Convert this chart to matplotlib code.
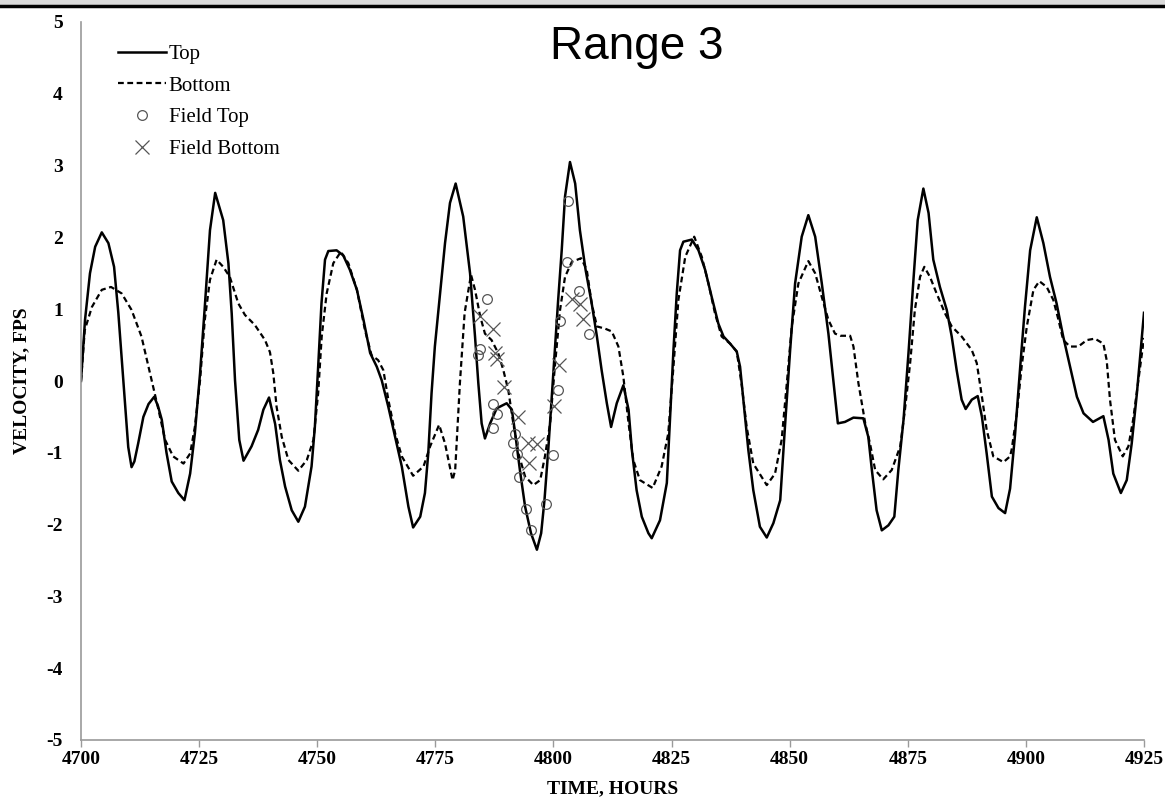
import matplotlib.pyplot as plt
from matplotlib.lines import Line2D
from matplotlib.patches import Rectangle

plt.rcParams["axes.unicode_minus"] = False

# ---- data --------------------------------------------------------------
top_t = [4700.0, 4700.85, 4701.9, 4703.0, 4704.4, 4705.8, 4707.0, 4707.9, 4708.95, 4710.0,
         4710.7, 4711.3, 4712.1, 4713.2, 4714.3, 4715.5, 4716.3, 4717.1, 4718.1, 4719.2,
         4720.6, 4721.9, 4723.1, 4724.1, 4725.2, 4726.2, 4727.3, 4728.4, 4730.1, 4731.2,
         4731.9, 4732.6, 4733.5, 4734.4, 4736.1, 4737.5, 4738.6, 4739.8, 4741.1, 4742.1,
         4743.2, 4744.6, 4746.0, 4747.4, 4748.8, 4749.5, 4750.2, 4750.9, 4751.65, 4752.35,
         4754.1, 4755.5, 4756.9, 4758.4, 4759.8, 4761.2, 4762.6, 4763.65, 4765.05, 4766.5,
         4767.9, 4769.3, 4770.3, 4771.8, 4772.8, 4773.5, 4774.2, 4774.9, 4776.0, 4777.05,
         4778.1, 4779.3, 4780.9, 4782.35, 4783.4, 4784.1, 4784.8, 4785.5, 4786.6, 4788.0,
         4790.1, 4791.2, 4791.9, 4792.9, 4794.0, 4795.25, 4796.5, 4797.4, 4798.1, 4798.9,
         4799.6, 4800.3, 4801.0, 4801.75, 4802.45, 4803.5, 4804.6, 4805.6, 4806.8, 4808.1,
         4809.2, 4810.2, 4811.3, 4812.2, 4813.4, 4814.8, 4815.9, 4816.6, 4817.6, 4818.7,
         4820.1, 4820.8, 4822.55, 4824.0, 4824.7, 4825.4, 4826.1, 4826.8, 4827.5, 4829.3,
         4830.7, 4832.1, 4833.5, 4834.9, 4836.0, 4837.4, 4838.8, 4839.5, 4840.2, 4841.25,
         4842.3, 4843.7, 4845.15, 4846.55, 4848.0, 4849.0, 4850.1, 4851.15, 4852.55, 4853.95,
         4855.4, 4856.8, 4858.2, 4859.3, 4860.2, 4861.7, 4863.5, 4865.6, 4866.65, 4867.4,
         4868.4, 4869.5, 4870.9, 4872.15, 4873.0, 4874.1, 4875.15, 4876.2, 4877.1, 4878.3,
         4879.4, 4880.4, 4881.8, 4883.25, 4884.3, 4885.35, 4886.4, 4887.25, 4888.55, 4889.8,
         4890.7, 4891.7, 4892.8, 4894.2, 4895.6, 4896.65, 4897.7, 4898.8, 4899.8, 4900.9,
         4902.3, 4903.7, 4905.1, 4906.5, 4907.9, 4909.35, 4910.8, 4912.2, 4914.2, 4916.4,
         4917.5, 4918.5, 4920.1, 4921.35, 4922.4, 4923.5, 4924.5, 4925.0]
top_v = [0.00, 0.85, 1.50, 1.87, 2.07, 1.92, 1.59, 0.95, 0.01, -0.92,
         -1.20, -1.12, -0.87, -0.50, -0.32, -0.22, -0.35, -0.54, -1.00, -1.40,
         -1.56, -1.66, -1.29, -0.73, 0.11, 1.03, 2.10, 2.62, 2.24, 1.64,
         0.94, 0.01, -0.82, -1.11, -0.91, -0.68, -0.40, -0.23, -0.60, -1.10,
         -1.47, -1.80, -1.96, -1.75, -1.19, -0.64, 0.20, 1.08, 1.69, 1.81,
         1.82, 1.75, 1.55, 1.27, 0.85, 0.39, 0.20, 0.01, -0.36, -0.78,
         -1.19, -1.75, -2.04, -1.89, -1.56, -1.01, -0.17, 0.48, 1.22, 1.92,
         2.48, 2.75, 2.29, 1.50, 0.62, -0.03, -0.59, -0.80, -0.59, -0.38,
         -0.31, -0.40, -0.73, -1.24, -1.75, -2.12, -2.35, -2.12, -1.66, -0.96,
         -0.26, 0.43, 1.13, 1.82, 2.57, 3.05, 2.75, 2.10, 1.55, 1.08,
         0.62, 0.15, -0.31, -0.64, -0.31, -0.06, -0.40, -0.96, -1.52, -1.89,
         -2.12, -2.19, -1.94, -1.42, -0.50, 0.43, 1.22, 1.82, 1.94, 1.97,
         1.82, 1.55, 1.17, 0.80, 0.62, 0.52, 0.41, 0.20, -0.26, -0.96,
         -1.52, -2.03, -2.18, -1.98, -1.66, -0.64, 0.43, 1.36, 2.01, 2.31,
         2.01, 1.36, 0.66, -0.03, -0.59, -0.57, -0.51, -0.52, -0.78, -1.24,
         -1.80, -2.08, -2.01, -1.89, -1.24, -0.54, 0.39, 1.41, 2.24, 2.68,
         2.34, 1.69, 1.31, 0.99, 0.62, 0.15, -0.26, -0.39, -0.26, -0.21,
         -0.50, -1.01, -1.61, -1.77, -1.84, -1.50, -0.75, 0.20, 1.03, 1.82,
         2.28, 1.92, 1.45, 1.08, 0.62, 0.20, -0.22, -0.45, -0.57, -0.49,
         -0.82, -1.29, -1.56, -1.38, -0.87, -0.17, 0.57, 0.95]

bot_t = [4700.0, 4700.8, 4702.3, 4704.4, 4706.35, 4708.6, 4710.7, 4712.8, 4714.6, 4716.4,
         4717.8, 4719.5, 4721.7, 4723.1, 4724.1, 4725.2, 4726.2, 4727.3, 4728.7, 4730.1,
         4731.5, 4733.3, 4734.7, 4736.8, 4738.95, 4740.0, 4740.7, 4741.4, 4742.5, 4743.9,
         4746.0, 4747.8, 4749.2, 4750.2, 4750.95, 4752.0, 4753.4, 4755.0, 4756.6, 4758.4,
         4760.1, 4761.5, 4762.9, 4764.0, 4765.05, 4766.5, 4767.9, 4770.3, 4772.5, 4773.9,
         4775.8, 4777.05, 4778.65, 4779.2, 4779.5, 4780.2, 4781.2, 4782.55, 4783.4, 4784.5,
         4785.5, 4786.9, 4788.3, 4789.4, 4790.45, 4791.5, 4792.6, 4794.0, 4795.75, 4797.2,
         4798.2, 4799.3, 4800.3, 4801.4, 4802.45, 4803.9, 4805.85, 4807.05, 4808.1, 4809.2,
         4810.9, 4812.35, 4813.75, 4814.8, 4815.9, 4816.9, 4818.3, 4821.0, 4822.9, 4824.3,
         4825.4, 4826.45, 4827.9, 4829.8, 4831.4, 4832.8, 4834.2, 4835.6, 4837.4, 4838.8,
         4839.9, 4840.9, 4842.3, 4845.15, 4846.9, 4848.3, 4849.4, 4850.45, 4851.85, 4853.95,
         4855.4, 4856.8, 4858.2, 4859.6, 4860.7, 4862.8, 4863.5, 4864.55, 4866.0, 4867.0,
         4868.1, 4869.8, 4871.6, 4873.4, 4874.4, 4875.5, 4876.5, 4877.6, 4878.5, 4879.7,
         4881.1, 4882.9, 4884.3, 4886.4, 4888.55, 4889.6, 4890.7, 4891.7, 4893.1, 4895.25,
         4896.65, 4897.0, 4898.1, 4899.1, 4900.2, 4901.6, 4902.85, 4904.4, 4905.8, 4906.9,
         4907.9, 4909.35, 4911.1, 4912.9, 4914.6, 4916.4, 4917.1, 4917.8, 4918.85, 4920.5,
         4921.7, 4922.7, 4923.8, 4925.0]
bot_v = [0.00, 0.71, 1.03, 1.27, 1.31, 1.22, 0.99, 0.62, 0.11, -0.40,
         -0.82, -1.05, -1.15, -1.01, -0.64, 0.01, 0.85, 1.41, 1.69, 1.59,
         1.45, 1.08, 0.92, 0.78, 0.57, 0.40, 0.11, -0.36, -0.78, -1.10,
         -1.25, -1.10, -0.82, -0.17, 0.62, 1.22, 1.64, 1.80, 1.64, 1.27,
         0.71, 0.36, 0.29, 0.15, -0.26, -0.73, -1.05, -1.32, -1.19, -0.91,
         -0.61, -0.87, -1.38, -1.24, -0.87, -0.03, 0.95, 1.48, 1.27, 0.90,
         0.66, 0.57, 0.39, 0.15, -0.13, -0.59, -1.01, -1.33, -1.45, -1.38,
         -1.05, -0.59, 0.20, 0.99, 1.45, 1.66, 1.71, 1.55, 1.08, 0.76,
         0.73, 0.69, 0.48, 0.06, -0.59, -1.10, -1.38, -1.49, -1.19, -0.73,
         0.20, 1.13, 1.73, 2.01, 1.73, 1.36, 0.94, 0.62, 0.52, 0.41,
         -0.08, -0.64, -1.15, -1.45, -1.29, -0.82, -0.03, 0.76, 1.36, 1.67,
         1.50, 1.17, 0.85, 0.66, 0.63, 0.63, 0.48, -0.03, -0.59, -0.87,
         -1.24, -1.37, -1.24, -0.91, -0.40, 0.25, 0.99, 1.45, 1.59, 1.45,
         1.22, 0.94, 0.76, 0.62, 0.43, 0.25, -0.22, -0.68, -1.05, -1.13,
         -1.05, -0.95, -0.45, 0.20, 0.76, 1.27, 1.39, 1.31, 1.13, 0.85,
         0.57, 0.48, 0.48, 0.57, 0.59, 0.52, 0.29, -0.26, -0.82, -1.05,
         -0.91, -0.54, 0.01, 0.60]

field_top_t = [4785.9, 4784.5, 4784.1, 4787.3, 4788.0, 4787.15, 4791.9, 4791.4, 4792.35, 4792.8,
               4794.2, 4795.2, 4798.4, 4800.0, 4800.9, 4801.4, 4802.8, 4803.15, 4805.5, 4807.5]
field_top_v = [1.14, 0.44, 0.36, -0.32, -0.46, -0.66, -0.74, -0.86, -1.02, -1.34,
               -1.78, -2.08, -1.71, -1.03, -0.13, 0.84, 1.66, 2.51, 1.25, 0.65]

field_bot_t = [4784.5, 4787.15, 4787.6, 4788.1, 4789.5, 4792.6, 4794.7, 4796.5, 4794.8, 4800.1,
               4801.2, 4803.9, 4805.6, 4806.2]
field_bot_v = [0.90, 0.73, 0.39, 0.30, -0.09, -0.50, -0.86, -0.88, -1.14, -0.35,
               0.22, 1.14, 1.07, 0.87]

x_ticks = [4700, 4725, 4750, 4775, 4800, 4825, 4850, 4875, 4900, 4925]
y_ticks = [-5, -4, -3, -2, -1, 0, 1, 2, 3, 4, 5]

SERIF = "Liberation Serif"
GRID_GREY = "#9a9a9a"
MARK_GREY = "#555555"


def main():
    fig = plt.figure(figsize=(11.65, 7.99), dpi=100)
    ax = fig.add_axes([81 / 1165, 59 / 799, 1063 / 1165, 718 / 799])

    ax.plot(top_t, top_v, color="black", lw=1.8, solid_joinstyle="round",
            label="Top")
    ax.plot(bot_t, bot_v, color="black", lw=1.6, linestyle=(0, (2.6, 1.6)),
            dash_joinstyle="round", label="Bottom")
    ax.plot(field_top_t, field_top_v, linestyle="none", marker="o", ms=7,
            mfc="none", mec=MARK_GREY, mew=0.9, label="Field Top")
    ax.plot(field_bot_t, field_bot_v, linestyle="none", marker="x", ms=10,
            mec=MARK_GREY, mew=0.9, label="Field Bottom")

    ax.set_xlim(4700, 4925)
    ax.set_ylim(-5, 5)
    ax.set_xticks(x_ticks)
    ax.set_yticks(y_ticks)
    for lab in ax.get_xticklabels() + ax.get_yticklabels():
        lab.set_fontfamily(SERIF)
        lab.set_fontweight("bold")
        lab.set_fontsize(14)
    ax.tick_params(axis="x", length=5, width=1, color=GRID_GREY, pad=3)
    ax.tick_params(axis="y", length=0, pad=13)

    for side in ("top", "right"):
        ax.spines[side].set_visible(False)
    for side in ("left", "bottom"):
        ax.spines[side].set_color(GRID_GREY)
        ax.spines[side].set_linewidth(1.2)

    ax.set_xlabel("TIME, HOURS", fontfamily=SERIF, fontweight="bold",
                  fontsize=14, labelpad=9)
    ax.set_ylabel("VELOCITY, FPS", fontfamily=SERIF, fontweight="bold",
                  fontsize=14)
    ax.yaxis.set_label_coords((30 - 81) / 1063, 0.5)

    ax.legend(loc="upper left", bbox_to_anchor=(0.017, 0.995),
              frameon=False, handlelength=2.3, handletextpad=0.15,
              labelspacing=0.58, prop={"family": SERIF, "size": 15})

    fig.text(637 / 1165, 1 - 47 / 799, "Range 3", ha="center", va="center",
             fontfamily="Liberation Sans", fontsize=33)

    # slide header band at the very top
    fig.patches.append(Rectangle((0, 1 - 5 / 799), 1, 5 / 799,
                                 transform=fig.transFigure,
                                 color="#d9d9d9", zorder=0))
    fig.lines.append(Line2D([0, 1], [1 - 6 / 799, 1 - 6 / 799],
                            transform=fig.transFigure, color="black", lw=2.5))

    fig.savefig("out.png", dpi=100)


if __name__ == "__main__":
    main()
